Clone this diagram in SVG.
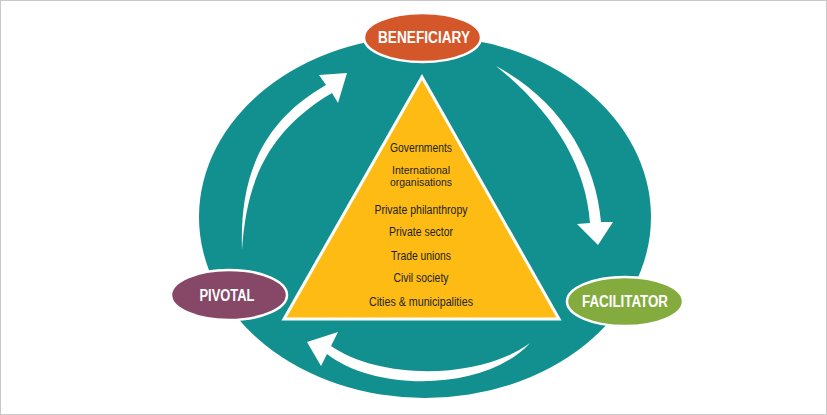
<svg xmlns="http://www.w3.org/2000/svg" width="827" height="415" viewBox="0 0 827 415">
<style>
.lbl{font-family:"Liberation Sans Narrow","Arial Narrow","Liberation Sans",sans-serif;font-weight:bold;font-size:16px;fill:#fff;text-anchor:middle}
.item{font-family:"Liberation Sans Narrow","Arial Narrow","Liberation Sans",sans-serif;font-size:12px;fill:#231f20;text-anchor:middle}
.tight{font-size:11px}
.node{stroke:#fff;stroke-width:2.5}
.arrow{fill:#fff}
</style>
<rect x="0.5" y="0.5" width="826" height="414" fill="#fff" stroke="#c9c9c9"/>
<g id="cycle">
<ellipse cx="425" cy="217" rx="226" ry="181" fill="#12908f"/>
</g>
<g id="stakeholders">
<polygon points="422,77 284,319 559,319" fill="#fdbb14" stroke="#fff" stroke-width="3" stroke-linejoin="miter"/>
<text class="item" x="421" y="152" textLength="62" lengthAdjust="spacingAndGlyphs">Governments</text>
<text class="item tight" x="421" y="174" textLength="58" lengthAdjust="spacingAndGlyphs">International</text>
<text class="item tight" x="421" y="186" textLength="62" lengthAdjust="spacingAndGlyphs">organisations</text>
<text class="item" x="421" y="214" textLength="93" lengthAdjust="spacingAndGlyphs">Private philanthropy</text>
<text class="item" x="421" y="236" textLength="64" lengthAdjust="spacingAndGlyphs">Private sector</text>
<text class="item" x="421" y="260" textLength="60" lengthAdjust="spacingAndGlyphs">Trade unions</text>
<text class="item" x="421" y="282" textLength="55" lengthAdjust="spacingAndGlyphs">Civil society</text>
<text class="item" x="421" y="305.5" textLength="104" lengthAdjust="spacingAndGlyphs">Cities &amp; municipalities</text>
</g>
<g id="connectors">
<path class="arrow" d="M242,250 C240,188 254,126 326,85 L319,75 L347,73 L338,103 L332,93 C262,134 246,190 242,250 Z"/>
<path class="arrow" d="M496,66 C560,100 596,160 601,222 L613,222 L598,245 L577,224 L590,223 C586,165 553,112 496,66 Z"/>
<path class="arrow" d="M530,343 C485,392 375,392 327,354 L321,366 L307,342 L338,332 L331,346 C380,380 480,380 530,343 Z"/>
</g>
<g id="beneficiary">
<ellipse class="node" cx="422.5" cy="37.5" rx="58.5" ry="24.5" fill="#d4572a"/>
<text class="lbl" x="424" y="42.5" textLength="92" lengthAdjust="spacingAndGlyphs">BENEFICIARY</text>
</g>
<g id="pivotal">
<ellipse class="node" cx="229" cy="295" rx="58" ry="25" fill="#874766"/>
<text class="lbl" x="227" y="300.5" textLength="55" lengthAdjust="spacingAndGlyphs">PIVOTAL</text>
</g>
<g id="facilitator">
<ellipse class="node" cx="625" cy="301.5" rx="58" ry="24.5" fill="#84ab3e"/>
<text class="lbl" x="625" y="307" textLength="86" lengthAdjust="spacingAndGlyphs">FACILITATOR</text>
</g>
</svg>
